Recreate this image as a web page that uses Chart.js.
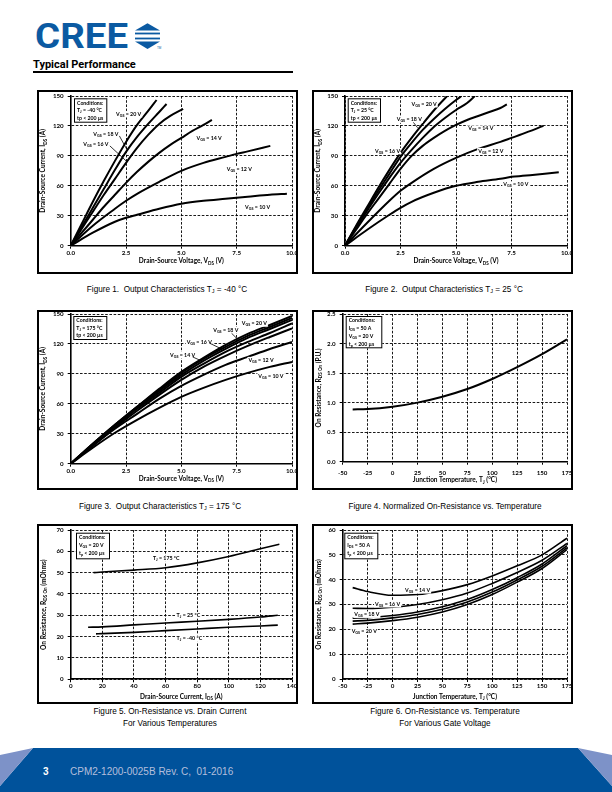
<!DOCTYPE html>
<html>
<head>
<meta charset="utf-8">
<script src="https://cdn.jsdelivr.net/npm/chart.js@4.4.1/dist/chart.umd.min.js"></script>
<style>
  body { margin: 0; background: #fff; }
  #page { position: relative; width: 612px; height: 792px; overflow: hidden; background: #fff; }
  .box { position: absolute; border: 2px solid #000; box-sizing: border-box; pointer-events: none; z-index: 0; }
  canvas { position: absolute; z-index: 1; }
  .cap { position: absolute; font-family: 'Liberation Sans', Arial, sans-serif; font-size: 8.2px; color: #000;
         text-align: center; white-space: nowrap; transform: translateX(-50%); line-height: 11.5px; }
  .cap sub { font-size: 5.5px; vertical-align: -1px; }
  #title { position: absolute; left: 33px; top: 58px; font-family: Roboto, sans-serif; font-weight: bold; font-size: 11px; }
  #rule { position: absolute; left: 33px; top: 71px; width: 260px; height: 2px; background: #000; }
</style>
</head>
<body>
<div id="page">
  <svg style="position:absolute;left:0;top:0" width="612" height="56">
    <text x="35" y="48" font-family="Roboto" font-weight="bold" font-size="35" fill="#0b5aa2"
          textLength="93" lengthAdjust="spacingAndGlyphs">CREE</text>
    <polygon points="135,30.6 147.5,23.3 160,30.6" fill="#0b5aa2"/>
    <rect x="135" y="32.6" width="25" height="1.8" fill="#0b5aa2"/>
    <rect x="135" y="37.6" width="25" height="1.8" fill="#0b5aa2"/>
    <polygon points="135,41.4 160,41.4 147.5,49" fill="#0b5aa2"/>
    <text x="157" y="49" font-family="Liberation Sans" font-size="3" fill="#0b5aa2">TM</text>
  </svg>
  <div id="title">Typical Performance</div>
  <div id="rule"></div>

  <div class="cap" style="left:167px;top:284px">Figure 1.&nbsp; Output Characteristics T<sub>J</sub> = -40 °C</div>
  <div class="cap" style="left:444px;top:284px">Figure 2.&nbsp; Output Characteristics T<sub>J</sub> = 25 °C</div>
  <div class="cap" style="left:160px;top:501px">Figure 3.&nbsp; Output Characteristics T<sub>J</sub> = 175 °C</div>
  <div class="cap" style="left:445px;top:501px">Figure 4. Normalized On-Resistance vs. Temperature</div>
  <div class="cap" style="left:170px;top:706px">Figure 5. On-Resistance vs. Drain Current<br>For Various Temperatures</div>
  <div class="cap" style="left:445px;top:706px">Figure 6. On-Resistance vs. Temperature<br>For Various Gate Voltage</div>

  <svg style="position:absolute;left:0;top:740px" width="612" height="52">
    <polygon points="33,8 578,8 612,46 612,52 0,52 0,46" fill="#00529b"/>
    <polygon points="0,15 33,8 0,46" fill="#7d92c8"/>
    <polygon points="578,8 612,15 612,46" fill="#7d92c8"/>
    <text x="43" y="35" font-family="Liberation Sans" font-weight="bold" font-size="10" fill="#fff">3</text>
    <text x="70" y="35" font-family="Liberation Sans" font-size="10" fill="#b4bfdc">CPM2-1200-0025B Rev. C,&#160; 01-2016</text>
  </svg>
</div>

<script>
// ---------- Figure 1: output characteristics, Tj = -40 C ----------
const f1_vds_20 = [0, 0.5, 1, 1.5, 2, 2.5, 3, 3.5, 3.88];
const f1_ids_20 = [0, 22, 44, 65, 85, 104, 121, 135, 146];
const f1_vds_18 = [0, 0.5, 1, 1.5, 2, 2.5, 3, 3.5, 4, 4.33];
const f1_ids_18 = [0, 19, 38, 57, 76, 94, 109, 122, 134, 142];
const f1_vds_16 = [0, 0.5, 1, 1.5, 2, 2.5, 3, 3.5, 4, 4.5, 5.08];
const f1_ids_16 = [0, 17, 34, 51, 67, 83, 98, 111, 122, 130, 137];
const f1_vds_14 = [0, 0.5, 1, 1.5, 2, 2.5, 3, 3.5, 4, 4.5, 5, 5.5, 6, 6.38];
const f1_ids_14 = [0, 13, 26, 39, 51, 63, 74, 84, 93, 101, 108, 115, 121, 126];
const f1_vds_12 = [0, 1, 2, 2.5, 3, 4, 5, 6, 7, 7.5, 8, 9.02];
const f1_ids_12 = [0, 20, 37, 45, 52, 64, 75, 83, 89, 92, 94.5, 100];
const f1_vds_10 = [0, 1, 2, 2.5, 3, 4, 5, 6, 7, 7.5, 8, 9, 9.77];
const f1_ids_10 = [0, 13, 24, 28, 31, 37, 42, 45, 47, 48, 49, 51, 52];

// ---------- Figure 2: Tj = 25 C ----------
const f2_vds_20 = [0, 0.5, 1, 1.5, 2, 2.5, 3, 3.5, 4, 4.6];
const f2_ids_20 = [0, 20, 39, 58, 76, 93, 108, 122, 135.5, 150];
const f2_vds_18 = [0, 0.5, 1, 1.5, 2, 2.5, 3, 3.5, 4, 4.5, 5, 5.25];
const f2_ids_18 = [0, 19, 37, 55, 72, 89, 103, 116, 127, 137, 146, 150];
const f2_vds_16 = [0, 0.5, 1, 1.5, 2, 2.5, 3, 3.5, 4, 4.5, 5, 5.5, 5.85];
const f2_ids_16 = [0, 18, 35, 52, 68, 83, 96, 108, 119, 128, 136, 143, 150];
const f2_vds_14 = [0, 0.5, 1, 1.5, 2, 2.5, 3, 3.5, 4, 4.5, 5, 5.5, 6, 6.5, 7, 7.29];
const f2_ids_14 = [0, 16, 32, 47, 62, 77, 90, 100, 108, 115, 121, 126, 130, 134, 138, 141.6];
const f2_vds_12 = [0, 1, 2, 2.5, 3, 4, 5, 6, 7, 7.5, 8, 8.94];
const f2_ids_12 = [0, 23, 45, 55, 63, 77, 88, 97, 104, 108, 112, 120];
const f2_vds_10 = [0, 1, 2, 2.5, 3, 4, 5, 6, 7, 7.5, 8, 9, 9.63];
const f2_ids_10 = [0, 16, 31, 38, 44, 53, 60, 64, 67, 69, 70, 72, 73.5];

// ---------- Figure 3: Tj = 175 C ----------
const f3_vds = [0, 1, 2, 3, 4, 5, 6, 7, 8, 9, 10];
const f3_ids_20 = [0, 20, 39, 57, 75, 92, 106, 119, 130, 139, 148];
const f3_ids_18 = [0, 20, 39, 57, 74, 91, 105, 117, 128, 137, 146];
const f3_ids_16 = [0, 19, 38, 56, 73, 89, 103, 115, 126, 135, 144];
const f3_ids_14 = [0, 19, 37, 55, 71, 87, 100, 112, 122, 131, 140.6];
const f3_ids_xx = [0, 18, 36, 53, 69, 84, 97, 108, 118, 127, 135.6]; // unlabelled curve in the figure
const f3_ids_12 = [0, 18, 35, 50, 65, 78, 89, 99, 107, 115, 122];
const f3_ids_10 = [0, 16, 31, 44, 56, 67, 76, 84, 91, 97, 102];

// ---------- Figure 4: normalized Rds(on) vs Tj ----------
const f4_tj = [-40, -25, 0, 25, 50, 75, 100, 125, 150, 175];
const f4_rds = [0.885, 0.89, 0.93, 1.0, 1.1, 1.23, 1.4, 1.6, 1.82, 2.07];

// ---------- Figure 5: Rds(on) vs Ids ----------
const f5_ids_175 = [14.5, 20, 40, 60, 80, 100, 120, 132];
const f5_rds_175 = [50, 50.3, 51.2, 52.3, 54.6, 57.6, 61.2, 63.3];
const f5_ids_25 = [11, 20, 40, 60, 80, 100, 120, 131];
const f5_rds_25 = [24.4, 24.6, 25.5, 26.4, 27.2, 28.1, 29.2, 30];
const f5_ids_m40 = [16, 20, 40, 60, 80, 100, 120, 131];
const f5_rds_m40 = [21.3, 21.4, 22.0, 22.8, 23.6, 24.4, 25.0, 25.4];

// ---------- Figure 6: Rds(on) vs Tj for Vgs ----------
const f6_tj = [-40, -25, 0, 25, 50, 75, 100, 125, 150, 175];
const f6_rds_14 = [36.8, 35.2, 33.7, 34.0, 35.6, 38.0, 41.5, 45.6, 50.0, 56.7];
const f6_rds_16 = [28.5, 28.4, 28.9, 30.0, 31.9, 34.6, 38.5, 42.9, 47.8, 54.6];
const f6_rds_18 = [24.5, 24.7, 25.6, 27.0, 29.1, 32.0, 36.0, 40.8, 46.3, 53.7];
const f6_rds_xx = [23.3, 23.6, 24.6, 26.0, 28.1, 31.0, 35.0, 39.9, 45.4, 52.9];
const f6_rds_20 = [22.1, 22.5, 23.5, 24.9, 27.0, 30.0, 34.0, 39.0, 44.5, 52.1];

Chart.defaults.font.family = "Lato, 'Liberation Sans', sans-serif";

function pts(xs, ys) {
  return xs.map((x, i) => ({ x: x, y: ys[i] }));
}

function line(xs, ys, w) {
  return {
    data: pts(xs, ys), borderColor: '#000', borderWidth: w || 2,
    pointRadius: 0, fill: false, cubicInterpolationMode: 'monotone'
  };
}

// text with {sub} parts
function rich(ctx, str, x, y, size, align, measureOnly) {
  const segs = str.split(/(\{[^}]*\})/).filter(s => s.length).map(p =>
    p[0] === '{' ? { t: p.slice(1, -1), sub: true } : { t: p, sub: false });
  const fMain = 'bold ' + size + 'px Lato', fSub = 'bold ' + (size * 0.7).toFixed(2) + 'px Lato';
  let w = 0;
  segs.forEach(s => { ctx.font = s.sub ? fSub : fMain; s.w = ctx.measureText(s.t).width; w += s.w; });
  if (measureOnly) return w;
  let cx = align === 'center' ? x - w / 2 : (align === 'right' ? x - w : x);
  ctx.textBaseline = 'middle';
  ctx.textAlign = 'left';
  ctx.fillStyle = '#000';
  segs.forEach(s => {
    ctx.font = s.sub ? fSub : fMain;
    ctx.fillText(s.t, cx, y + (s.sub ? size * 0.3 : 0));
    cx += s.w;
  });
  return w;
}

const ANN = {};

const annotPlugin = {
  id: 'annot',
  afterDraw(chart) {
    const a = ANN[chart.canvas.id];
    if (!a) return;
    const ctx = chart.ctx, ca = chart.chartArea;
    const xs = chart.scales.x, ys = chart.scales.y;
    ctx.save();
    // axis titles
    rich(ctx, a.xTitle, (ca.left + ca.right) / 2, ca.bottom + a.xTitleDy, 6.5, 'center');
    ctx.save();
    ctx.translate(a.yTitleX, (ca.top + ca.bottom) / 2);
    ctx.rotate(-Math.PI / 2);
    rich(ctx, a.yTitle, 0, 0, 6.6, 'center');
    ctx.restore();
    // conditions box
    const c = a.cond;
    const bx = ca.left + c.dx, by = ca.top + c.dy;
    ctx.fillStyle = '#fff';
    ctx.fillRect(bx, by, c.w, c.h);
    ctx.strokeStyle = '#000';
    ctx.lineWidth = 1;
    ctx.strokeRect(bx + 0.5, by + 0.5, c.w - 1, c.h - 1);
    c.lines.forEach((l, i) => rich(ctx, l, bx + 3, by + 4.8 + i * c.step, 5.2, 'left'));
    // curve labels
    (a.labels || []).forEach(l => {
      const px = xs.getPixelForValue(l.x), py = ys.getPixelForValue(l.y);
      const w = rich(ctx, l.t, px, py, 5.3, 'left', true);
      ctx.fillStyle = '#fff';
      ctx.fillRect(px - 1, py - 3, w + 2, 6.5);
      rich(ctx, l.t, px, py, 5.3, 'left');
      if (l.lead) {
        ctx.beginPath();
        ctx.strokeStyle = '#000';
        ctx.lineWidth = 0.8;
        ctx.moveTo(xs.getPixelForValue(l.lead[0]), ys.getPixelForValue(l.lead[1]));
        ctx.lineTo(xs.getPixelForValue(l.lead[2]), ys.getPixelForValue(l.lead[3]));
        ctx.stroke();
      }
    });
    ctx.restore();
  }
};

function makeChart(id, spec) {
  const page = document.getElementById('page');
  const [bxx, byy, bw, bh] = spec.box;
  const cx0 = bxx - 4, cy0 = byy - 4, cw = bw + 8, ch = bh + 8;
  const bd = document.createElement('div');
  bd.className = 'box';
  bd.style.left = bxx + 'px'; bd.style.top = byy + 'px';
  bd.style.width = bw + 'px'; bd.style.height = bh + 'px';
  page.appendChild(bd);
  const cv = document.createElement('canvas');
  cv.id = id;
  cv.width = cw; cv.height = ch;
  cv.style.left = cx0 + 'px'; cv.style.top = cy0 + 'px';
  cv.style.width = cw + 'px'; cv.style.height = ch + 'px';
  page.appendChild(cv);

  const pl = spec.plot[0] - cx0, pt = spec.plot[1] - cy0;
  const pr = cx0 + cw - spec.plot[2], pb = cy0 + ch - spec.plot[3];
  spec.ann.yTitleX = spec.ann.yTitleAbs - cx0;
  ANN[id] = spec.ann;

  const grid = { color: '#000', lineWidth: 0.9, tickLength: 3, tickColor: '#000', tickWidth: 1 };
  const border = { display: true, color: '#000', width: 1.6, dash: [2.6, 1.6] };
  const tickFont = { size: 6.2, weight: 'bold' };

  new Chart(cv, {
    type: 'line',
    data: { datasets: spec.datasets },
    options: {
      responsive: false,
      animation: false,
      events: [],
      layout: { padding: { left: 0, top: pt, right: pr, bottom: 0 } },
      plugins: { legend: { display: false }, tooltip: { enabled: false } },
      scales: {
        x: {
          type: 'linear', min: spec.x.min, max: spec.x.max,
          ticks: { stepSize: spec.x.step, callback: spec.x.fmt, font: tickFont, color: '#000',
                   padding: spec.tickOff - 3 - 3.8, maxRotation: 0, minRotation: 0, autoSkip: false },
          grid: grid, border: border,
          afterFit: s => { s.height = pb; s.paddingLeft = 0; s.paddingRight = 0; }
        },
        y: {
          type: 'linear', min: spec.y.min, max: spec.y.max,
          ticks: { stepSize: spec.y.step, callback: spec.y.fmt, font: tickFont, color: '#000',
                   padding: 4, autoSkip: false },
          grid: grid, border: border,
          afterFit: s => { s.width = pl; s.paddingTop = 0; s.paddingBottom = 0; }
        }
      }
    },
    plugins: [annotPlugin]
  });
}

const fmt1 = v => v.toFixed(1);
const fmt0 = v => String(v);
const vdsAxis = { min: 0, max: 10, step: 2.5, fmt: fmt1 };
const idsAxis = { min: 0, max: 150, step: 30, fmt: fmt0 };
const tjAxis = { min: -50, max: 175, step: 25, fmt: fmt0 };
const condStd = ['Conditions:'];

makeChart('fig1', {
  box: [37, 90, 261, 184], plot: [70.7, 96, 292, 245.7], tickOff: 7.4,
  x: vdsAxis, y: idsAxis,
  datasets: [
    line(f1_vds_20, f1_ids_20), line(f1_vds_18, f1_ids_18), line(f1_vds_16, f1_ids_16),
    line(f1_vds_14, f1_ids_14), line(f1_vds_12, f1_ids_12), line(f1_vds_10, f1_ids_10)
  ],
  ann: {
    xTitle: 'Drain-Source Voltage, V{DS} (V)', xTitleDy: 15.4,
    yTitle: 'Drain-Source Current, I{DS} (A)', yTitleAbs: 43.3,
    cond: { dx: 3.3, dy: 2.3, w: 33.3, h: 24.4, step: 7.5, lines: condStd.concat(['T{J} = -40 °C', 'tp < 200 µs']) },
    labels: [
      { x: 2.05, y: 132, t: 'V{GS} = 20 V' },
      { x: 1.02, y: 112, t: 'V{GS} = 18 V', lead: [2.2, 110, 2.55, 96] },
      { x: 0.57, y: 101.6, t: 'V{GS} = 16 V', lead: [1.77, 100, 2.55, 84] },
      { x: 5.69, y: 108, t: 'V{GS} = 14 V' },
      { x: 7.05, y: 76.5, t: 'V{GS} = 12 V' },
      { x: 7.88, y: 38.8, t: 'V{GS} = 10 V' }
    ]
  }
});

makeChart('fig2', {
  box: [312, 90, 261, 184], plot: [345, 96, 567, 245.7], tickOff: 7.4,
  x: vdsAxis, y: idsAxis,
  datasets: [
    line(f2_vds_20, f2_ids_20), line(f2_vds_18, f2_ids_18), line(f2_vds_16, f2_ids_16),
    line(f2_vds_14, f2_ids_14), line(f2_vds_12, f2_ids_12), line(f2_vds_10, f2_ids_10)
  ],
  ann: {
    xTitle: 'Drain-Source Voltage, V{DS} (V)', xTitleDy: 15.4,
    yTitle: 'Drain-Source Current, I{DS} (A)', yTitleAbs: 318.3,
    cond: { dx: 2.7, dy: 2.3, w: 33.3, h: 24.4, step: 7.5, lines: condStd.concat(['T{J} = 25 °C', 'tp < 200 µs']) },
    labels: [
      { x: 3.0, y: 142, t: 'V{GS} = 20 V' },
      { x: 2.33, y: 126.6, t: 'V{GS} = 18 V', lead: [3.08, 123.6, 3.27, 118.2] },
      { x: 5.55, y: 117.6, t: 'V{GS} = 14 V' },
      { x: 1.35, y: 95, t: 'V{GS} = 16 V', lead: [2.48, 95, 2.78, 90] },
      { x: 6.0, y: 95, t: 'V{GS} = 12 V' },
      { x: 7.13, y: 61.5, t: 'V{GS} = 10 V' }
    ]
  }
});

makeChart('fig3', {
  box: [37, 310, 261, 180], plot: [70.7, 314, 292, 463.7], tickOff: 7,
  x: vdsAxis, y: idsAxis,
  datasets: [
    line(f3_vds, f3_ids_20), line(f3_vds, f3_ids_18), line(f3_vds, f3_ids_16), line(f3_vds, f3_ids_14),
    line(f3_vds, f3_ids_xx), line(f3_vds, f3_ids_12), line(f3_vds, f3_ids_10)
  ],
  ann: {
    xTitle: 'Drain-Source Voltage, V{DS} (V)', xTitleDy: 14.8,
    yTitle: 'Drain-Source Current, I{DS} (A)', yTitleAbs: 43.3,
    cond: { dx: 2.6, dy: 2, w: 34, h: 24, step: 7.5, lines: condStd.concat(['T{J} = 175 °C', 'tp < 200 µs']) },
    labels: [
      { x: 7.73, y: 140.7, t: 'V{GS} = 20 V' },
      { x: 6.44, y: 134, t: 'V{GS} = 18 V', lead: [7.27, 130.7, 7.62, 123] },
      { x: 5.24, y: 122, t: 'V{GS} = 16 V', lead: [6.29, 120.6, 6.82, 115] },
      { x: 4.49, y: 109, t: 'V{GS} = 14 V', lead: [5.51, 107, 5.99, 102.2] },
      { x: 8.03, y: 104, t: 'V{GS} = 12 V' },
      { x: 8.48, y: 88, t: 'V{GS} = 10 V' }
    ]
  }
});

makeChart('fig4', {
  box: [312, 310, 261, 180], plot: [342.7, 314, 567, 461.7], tickOff: 11,
  x: tjAxis, y: { min: 0, max: 2.5, step: 0.5, fmt: fmt1 },
  datasets: [line(f4_tj, f4_rds)],
  ann: {
    xTitle: 'Junction Temperature, T{J} (°C)', xTitleDy: 18.5,
    yTitle: 'On Resistance, R{DS On} (P.U.)', yTitleAbs: 319,
    cond: { dx: 3, dy: 2, w: 36.6, h: 32.3, step: 7.7,
            lines: condStd.concat(['I{DS} = 50 A', 'V{GS} = 20 V', 't{p} < 200 µs']) },
    labels: []
  }
});

makeChart('fig5', {
  box: [37, 524, 261, 180], plot: [70.7, 530, 292, 679.3], tickOff: 6.9,
  x: { min: 0, max: 140, step: 20, fmt: fmt0 }, y: { min: 0, max: 70, step: 10, fmt: fmt0 },
  datasets: [
    line(f5_ids_175, f5_rds_175, 1.6), line(f5_ids_25, f5_rds_25, 1.6), line(f5_ids_m40, f5_rds_m40, 1.6)
  ],
  ann: {
    xTitle: 'Drain-Source Current, I{DS} (A)', xTitleDy: 17.4,
    yTitle: 'On Resistance, R{DS On} (mOhms)', yTitleAbs: 44,
    cond: { dx: 5.3, dy: 2.7, w: 34, h: 26.6, step: 8, lines: condStd.concat(['V{GS} = 20 V', 't{p} < 200 µs']) },
    labels: [
      { x: 52, y: 56.7, t: 'T{J} = 175 °C' },
      { x: 67, y: 30.1, t: 'T{J} = 25 °C' },
      { x: 67, y: 19.2, t: 'T{J} = -40 °C' }
    ]
  }
});

makeChart('fig6', {
  box: [312, 524, 261, 180], plot: [342.7, 530, 567, 679], tickOff: 7,
  x: tjAxis, y: { min: 0, max: 60, step: 10, fmt: fmt0 },
  datasets: [
    line(f6_tj, f6_rds_14, 1.6), line(f6_tj, f6_rds_16, 1.6), line(f6_tj, f6_rds_18, 1.6),
    line(f6_tj, f6_rds_xx, 1.6), line(f6_tj, f6_rds_20, 1.6)
  ],
  ann: {
    xTitle: 'Junction Temperature, T{J} (°C)', xTitleDy: 17.7,
    yTitle: 'On Resistance, R{DS On} (mOhms)', yTitleAbs: 319,
    cond: { dx: 1.6, dy: 2.7, w: 34, h: 26.6, step: 8, lines: condStd.concat(['I{DS} = 50 A', 't{p} < 200 µs']) },
    labels: [
      { x: 12.5, y: 35.8, t: 'V{GS} = 14 V' },
      { x: -17.6, y: 30.2, t: 'V{GS} = 16 V' },
      { x: -38.4, y: 26, t: 'V{GS} = 18 V' },
      { x: -41, y: 19.3, t: 'V{GS} = 20 V' }
    ]
  }
});
</script>
</body>
</html>
